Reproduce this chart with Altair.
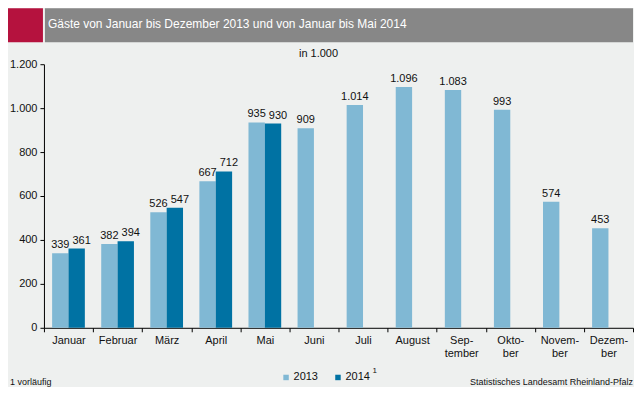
import altair as alt
import pandas as pd

# ---- data ----
months = ["Januar", "Februar", "März", "April", "Mai", "Juni", "Juli", "August",
          "Sep-|tember", "Okto-|ber", "Novem-|ber", "Dezem-|ber"]
years = ["2013", "2014"]
values_2013 = [339, 382, 526, 667, 935, 909, 1014, 1096, 1083, 993, 574, 453]
values_2014 = [361, 394, 547, 712, 930]
y_ticks = [0, 200, 400, 600, 800, 1000, 1200]

title_text = "Gäste von Januar bis Dezember 2013 und von Januar bis Mai 2014"
unit_text = "in 1.000"
footnote_text = "1 vorläufig"
source_text = "Statistisches Landesamt Rheinland-Pfalz"
superscript_text = "1"

rows = []
for m, v in zip(months, values_2013):
    rows.append({"Monat": m, "Jahr": "2013", "Wert": v})
for m, v in zip(months, values_2014):
    rows.append({"Monat": m, "Jahr": "2014", "Wert": v})
df = pd.DataFrame(rows)
df["Label"] = df["Wert"].map(lambda v: f"{v:,}".replace(",", "."))

# ---- style ----
LIGHT = "#80B8D4"
DARK = "#0072A3"
RED = "#B5123E"
GREY = "#878787"
BG = "#EEF0EF"
FONT = "Liberation Sans"
TXT = "#111111"
W, H = 590, 264

base = alt.Chart(df).encode(
    x=alt.X("Monat:N", sort=months,
            scale=alt.Scale(paddingInner=0, paddingOuter=0),
            axis=alt.Axis(title=None, labelAngle=0, tickBand="extent", tickSize=4,
                          tickColor="black", domainColor="black", labelColor=TXT,
                          labelFontSize=11, labelLineHeight=13, labelPadding=3,
                          labelExpr="split(datum.label, '|')")),
    xOffset=alt.XOffset("Jahr:N", sort=years,
                        scale=alt.Scale(paddingInner=0, paddingOuter=0.5)),
    y=alt.Y("Wert:Q", scale=alt.Scale(domain=[0, 1200], nice=False),
            axis=alt.Axis(title=None, values=y_ticks, grid=False, tickSize=4,
                          tickColor="black", domainColor="black", labelColor=TXT,
                          labelFontSize=11, labelPadding=3,
                          labelExpr="replace(format(datum.value, ',d'), ',', '.')")),
)

bars = base.mark_bar().encode(
    color=alt.Color("Jahr:N", scale=alt.Scale(domain=years, range=[LIGHT, DARK]),
                    legend=alt.Legend(orient="none", legendX=237, legendY=308,
                                      direction="horizontal", title=None,
                                      symbolType="square", symbolSize=30,
                                      symbolStrokeWidth=0, labelFontSize=11,
                                      labelOffset=2, columnPadding=14, padding=0,
                                      labelColor=TXT))
)

labels_2013 = base.transform_filter(alt.datum.Jahr == "2013").mark_text(
    baseline="bottom", dy=-3, fontSize=11, color=TXT).encode(text="Label:N")
labels_2014 = base.transform_filter(alt.datum.Jahr == "2014").mark_text(
    baseline="bottom", dy=-3, dx=5, fontSize=11, color=TXT).encode(text="Label:N")

deco = pd.DataFrame({"t": [title_text], "u": [unit_text], "f": [footnote_text],
                     "s": [source_text], "p": [superscript_text]})

red = alt.Chart(deco).mark_rect(color=RED).encode(
    x=alt.value(-36), x2=alt.value(-1), y=alt.value(-56), y2=alt.value(-22))
grey = alt.Chart(deco).mark_rect(color=GREY).encode(
    x=alt.value(1), x2=alt.value(W), y=alt.value(-56), y2=alt.value(-22))
title = alt.Chart(deco).mark_text(align="left", baseline="middle", color="white",
                                  fontSize=12).encode(
    x=alt.value(4), y=alt.value(-40), text="t:N")
unit = alt.Chart(deco).mark_text(align="center", baseline="middle", color=TXT,
                                 fontSize=11).encode(
    x=alt.value(275), y=alt.value(-10), text="u:N")
sup = alt.Chart(deco).mark_text(align="left", baseline="middle", color=TXT,
                                fontSize=8).encode(
    x=alt.value(329), y=alt.value(307), text="p:N")
foot = alt.Chart(deco).mark_text(align="left", baseline="middle", color=TXT,
                                 fontSize=9).encode(
    x=alt.value(-34), y=alt.value(318), text="f:N")
source = alt.Chart(deco).mark_text(align="right", baseline="middle", color=TXT,
                                   fontSize=9).encode(
    x=alt.value(W), y=alt.value(318), text="s:N")

chart = alt.layer(red, grey, title, unit, sup, foot, source, bars,
                  labels_2013, labels_2014).properties(
    width=W, height=H, padding=0, background=BG
).configure(font=FONT).configure_view(stroke=None)

chart.save("out.html", embed_options={"renderer": "svg", "actions": False})
